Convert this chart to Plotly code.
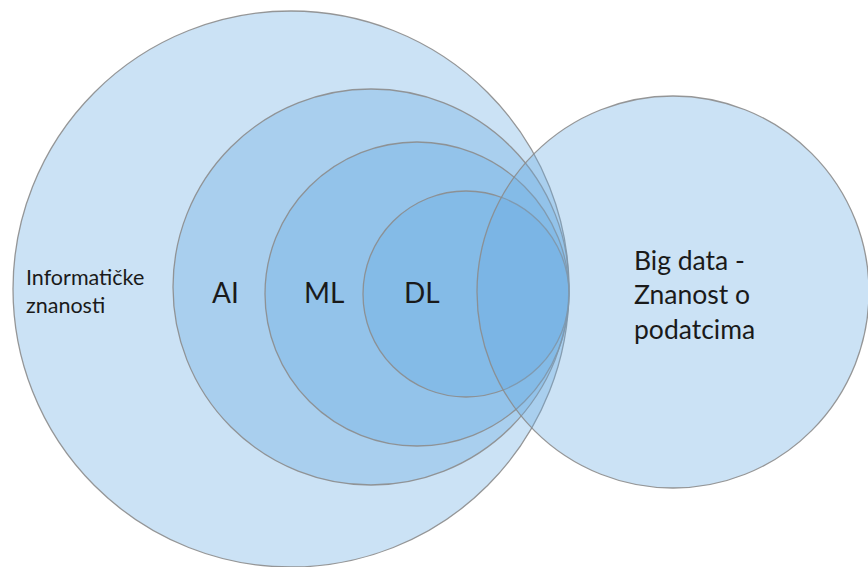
import plotly.graph_objects as go

# Diagram geometry (pixel-like data units)
set_names = ["Informatičke znanosti", "AI", "ML", "DL", "Big data - Znanost o podatcima"]
center_x = [291, 371, 417, 466, 673]
center_y = [289, 287, 294, 294, 292]
radius = [278, 198, 152, 103, 196]

label_texts = ["Informatičke<br>znanosti", "AI", "ML", "DL", "Big data -<br>Znanost o<br>podatcima"]
label_x = [24, 225, 324, 422, 632]
label_y = [291, 292, 292, 292, 294]
label_size = [21.5, 28, 28, 28, 26.5]
label_anchor = ["left", "center", "center", "center", "left"]

W, H = 868, 567
fig = go.Figure()
fig.add_trace(go.Scatter(x=[0, W], y=[0, H], mode="markers",
                         marker=dict(opacity=0), hoverinfo="skip", showlegend=False))

for cx, cy, r in zip(center_x, center_y, radius):
    fig.add_shape(type="circle", xref="x", yref="y",
                  x0=cx - r, x1=cx + r, y0=cy - r, y1=cy + r,
                  fillcolor="rgba(106,172,226,0.35)",
                  line=dict(color="rgba(140,140,140,0.9)", width=1.3),
                  layer="above")

for t, x, y, s, a in zip(label_texts, label_x, label_y, label_size, label_anchor):
    fig.add_annotation(x=x, y=y, xref="x", yref="y", text=t, showarrow=False,
                       xanchor=a, yanchor="middle", align="left",
                       font=dict(family="Lato", size=s, color="#1a1a1a"))

fig.update_xaxes(range=[0, W], visible=False, fixedrange=True)
fig.update_yaxes(range=[H, 0], visible=False, fixedrange=True)
fig.update_layout(width=W, height=H, margin=dict(l=0, r=0, t=0, b=0),
                  paper_bgcolor="white", plot_bgcolor="white", showlegend=False)
fig.write_html("out.html", config={"displayModeBar": False},
               post_script="document.body.style.margin='0px';document.body.style.overflow='hidden';")
